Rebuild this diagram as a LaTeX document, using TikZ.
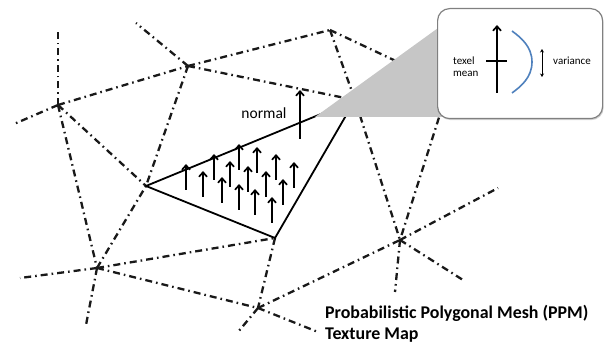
\documentclass[tikz,border=0pt]{standalone}
\usepackage{fontspec}
\setmainfont{Carlito}
\usetikzlibrary{arrows.meta,positioning,calc,shadows}

\definecolor{curveblue}{RGB}{79,129,189}

\begin{document}
\begin{tikzpicture}[x=1pt,y=-1pt,
  meshline/.style={line width=2.3pt, black!90, dash pattern=on 7pt off 4pt on 1.6pt off 4pt},
  faceline/.style={line width=1.8pt, line join=round},
  normalarrow/.style={line width=1.7pt, -{Straight Barb[length=4.5pt,width=8pt,line width=1.7pt]}},
  smalllbl/.style={inner sep=0pt, font=\fontsize{11}{12}\selectfont},
  titlelbl/.style={inner sep=0pt, anchor=base west, font=\fontsize{17.9}{23}\selectfont\bfseries}]
  \useasboundingbox (0,0) rectangle (605,347);

  % mesh vertices
  \coordinate (v1) at (58,105);
  \coordinate (v2) at (188,66);
  \coordinate (v4) at (97,268);
  \coordinate (v6) at (258,308);
  \coordinate (v7) at (400,240);
  \coordinate (v8) at (330,30);
  \coordinate (vh) at (449,86);
  % triangle vertices
  \coordinate (ta) at (146,186);
  \coordinate (tb) at (355,100);
  \coordinate (tc) at (275,238);
  % free ends of the mesh
  \coordinate (e1) at (58,28);
  \coordinate (e2) at (14,124);
  \coordinate (e3) at (136,23);
  \coordinate (e4) at (20,278);
  \coordinate (e5) at (86,325);
  \coordinate (e6) at (238,332);
  \coordinate (e7) at (318,332);
  \coordinate (e8) at (498,188);
  \coordinate (e9) at (463,280);
  \coordinate (e10) at (395,292);

  % mesh edges
  \foreach \a/\b in {v1/v2, v1/v4, v1/ta, v2/ta, v2/v8, v2/tb, v8/tb, v8/vh,
                     vh/v7, tb/v7, v4/ta, v4/tc, v4/v6, tc/v6, v6/v7,
                     v1/e1, v1/e2, v2/e3, v4/e4, v4/e5, v6/e6, v6/e7,
                     v7/e8, v7/e9, v7/e10}
    \draw[meshline] (\a) -- (\b);

  % textured face
  \draw[faceline] (ta) -- (tb) -- (tc) -- cycle;
  \foreach \x/\y in {186/190, 203/197, 214/180, 222/203, 230/187, 239/170, 239/210, 248/192,
                     257/173, 255/215, 266/197, 272/223, 276/180, 283/205, 294/188}
    \draw[normalarrow] (\x,\y) -- ++(0,-26);

  % face normal
  \coordinate (nbot) at (300,139);
  \coordinate (ntop) at (300,90);
  \draw[normalarrow, line width=1.8pt] (nbot) -- (ntop);
  \node[inner sep=0pt, anchor=base, font=\fontsize{15.5}{18}\selectfont] (normal) at (264,119) {normal};

  % zoom wedge and box
  \coordinate (apex) at (315,117);
  \fill[gray!45] (apex) -- (445,117) -- (445,23) -- cycle;
  \node[draw=gray, line width=1.2pt, rounded corners=12pt, fill=white, anchor=north west,
        minimum width=165pt, minimum height=110pt,
        drop shadow={shadow xshift=1pt, shadow yshift=-1.5pt, opacity=0.35}] (zoombox) at (437,8) {};

  % texel mean and variance
  \coordinate (mbot) at (497,93);
  \coordinate (mtop) at (497,25);
  \draw[normalarrow, line width=1.6pt] (mbot) -- (mtop);
  \coordinate (mleft) at (486,61);
  \coordinate (mright) at (507,61);
  \draw[line width=1.6pt] (mleft) -- (mright);
  \node[smalllbl, anchor=west, align=left] (texel) at (453,67) {texel\\mean};
  \draw[curveblue, line width=1.6pt] (512,31) .. controls (520,37) and (532,46) .. (532,62)
        .. controls (532,78) and (520,87) .. (512,93);
  \coordinate (vtop) at (542,49);
  \coordinate (vbot) at (542,77);
  \draw[line width=0.8pt, {Stealth[length=3.5pt,width=4pt]}-{Stealth[length=3.5pt,width=4pt]}] (vtop) -- (vbot);
  \node[smalllbl, anchor=base west] (variance) at (553,65) {variance};

  % caption
  \node[titlelbl] (ppm) at (325,319) {Probabilistic Polygonal Mesh (PPM)};
  \node[titlelbl] (tmap) at (325,339) {Texture Map};
\end{tikzpicture}
\end{document}
